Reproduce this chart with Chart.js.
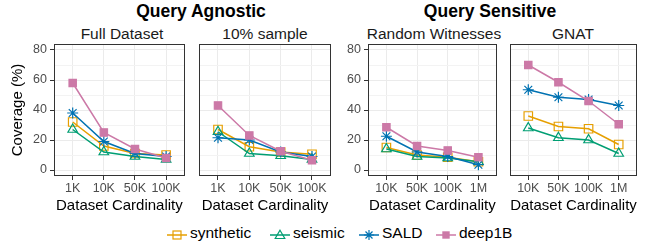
<!DOCTYPE html>
<html>
<head>
<meta charset="utf-8">
<script src="https://cdn.jsdelivr.net/npm/chart.js@4.4.1/dist/chart.umd.min.js"></script>
<style>
  body { margin: 0; background: #fff; width: 648px; height: 248px; position: relative; overflow: hidden;
         font-family: "Liberation Sans", Arial, sans-serif; }
  canvas { position: absolute; }
  .t { position: absolute; white-space: nowrap; transform: translateX(-50%); }
  .group { font-size: 17.5px; line-height: 17.5px; font-weight: bold; color: #000; top: 3px; }
  .strip { font-size: 15.5px; line-height: 15.5px; color: #1a1a1a; top: 26px; }
  .leg { position: absolute; top: 225px; font-size: 15.5px; line-height: 15.5px; color: #000; white-space: nowrap; }
  .leg svg { position: absolute; top: 3px; }
</style>
</head>
<body>

<div class="t group" style="left:201px">Query Agnostic</div>
<div class="t group" style="left:490px">Query Sensitive</div>
<div class="t strip" style="left:122px">Full Dataset</div>
<div class="t strip" style="left:265px">10% sample</div>
<div class="t strip" style="left:434px">Random Witnesses</div>
<div class="t strip" style="left:573px">GNAT</div>
<div id="legend"></div>

<script>
const SERIES = ['synthetic', 'seismic', 'SALD', 'deep1B'];
const agnosticLabels = ['1K', '10K', '50K', '100K'];
const sensitiveLabels = ['10K', '50K', '100K', '1M'];

// Query Agnostic - Full Dataset
const fullSynthetic = [32, 16, 11, 10];
const fullSeismic = [27, 12, 9, 7];
const fullSald = [38, 19, 11, 9];
const fullDeep = [58, 25, 14, 8];

// Query Agnostic - 10% sample
const sampleSynthetic = [27, 15.5, 12, 10.5];
const sampleSeismic = [25.5, 11, 9.5, 7];
const sampleSald = [21.5, 20, 12, 9];
const sampleDeep = [43, 23, 12.5, 6.5];

// Query Sensitive - Random Witnesses
const rwSynthetic = [15, 10, 8.5, 5.5];
const rwSeismic = [14, 9, 8, 5.5];
const rwSald = [22.5, 12, 9, 3.5];
const rwDeep = [28.5, 16, 13, 8.5];

// Query Sensitive - GNAT
const gnatSynthetic = [36, 29, 27.5, 17];
const gnatSeismic = [28, 21.5, 20, 11];
const gnatSald = [53.5, 48.5, 47, 43];
const gnatDeep = [70, 58.5, 46, 30.5];

const yTicks = [0, 10, 20, 30, 40, 50, 60, 70, 80];

const COLORS = ['#E69F00', '#009E73', '#0072B2', '#CC79A7'];
const STYLE = [
  { pointStyle: 'rect', radius: 6, fill: 'rgba(0,0,0,0)' },
  { pointStyle: 'triangle', radius: 5.5, fill: 'rgba(0,0,0,0)' },
  { pointStyle: 'star', radius: 5.5, fill: 'rgba(0,0,0,0)' },
  { pointStyle: 'rect', radius: 5.2, fill: '#CC79A7' }
];
const FONT = '"Liberation Sans", Arial, sans-serif';

const panelBorder = {
  id: 'panelBorder',
  afterDraw(chart) {
    const { ctx, chartArea: a } = chart;
    ctx.save();
    ctx.strokeStyle = '#333333';
    ctx.lineWidth = 1;
    ctx.strokeRect(Math.round(a.left) + 0.5, Math.round(a.top) + 0.5,
                   Math.round(a.right - a.left) - 1, Math.round(a.bottom - a.top) - 1);
    ctx.restore();
  }
};

// left/right = chart area edges in page pixels, axisW = room for y labels
function panel(left, right, axisW, labels, values, yTitle) {
  const cv = document.createElement('canvas');
  const cLeft = left - axisW - 2;
  cv.width = right - cLeft + 3;
  cv.height = 193;
  cv.style.left = cLeft + 'px';
  cv.style.top = '22px';
  document.body.appendChild(cv);
  const showY = axisW > 0;

  new Chart(cv, {
    type: 'line',
    data: {
      datasets: SERIES.map((name, k) => ({
        label: name,
        data: values[k].map((v, i) => ({ x: i, y: v })),
        borderColor: COLORS[k],
        backgroundColor: STYLE[k].fill,
        pointBackgroundColor: STYLE[k].fill,
        pointBorderColor: COLORS[k],
        pointStyle: STYLE[k].pointStyle,
        pointRadius: STYLE[k].radius,
        pointBorderWidth: 1.2,
        borderWidth: 1.5,
        tension: 0,
        order: 3 - k
      }))
    },
    options: {
      responsive: false, animation: false, devicePixelRatio: 1, events: [],
      layout: { padding: { left: 2, right: 3, top: 22, bottom: 0 } },
      plugins: { legend: { display: false }, tooltip: { enabled: false } },
      scales: {
        x: {
          type: 'linear', min: -0.6, max: 3.6,
          afterBuildTicks: s => { s.ticks = labels.map((_, i) => ({ value: i })); },
          afterFit: s => { s.height = 39; },
          border: { display: false },
          grid: { color: '#EBEBEB', lineWidth: 1, tickLength: 4, tickColor: '#333333' },
          ticks: { autoSkip: false, maxRotation: 0, padding: 1, color: '#4D4D4D',
                   font: { size: 12.5, family: FONT }, callback: v => labels[v] },
          title: { display: true, text: 'Dataset Cardinality', color: '#000',
                   font: { size: 15, family: FONT }, padding: { top: 0, bottom: 0 } }
        },
        y: {
          type: 'linear', min: -4, max: 84,
          afterBuildTicks: s => { s.ticks = yTicks.map(v => ({ value: v })); },
          afterFit: s => { s.width = axisW; },
          border: { display: false },
          grid: {
            color: c => (c.tick && c.tick.value % 20) ? '#F3F3F3' : '#EBEBEB',
            lineWidth: 1, drawTicks: showY, tickLength: 4,
            tickColor: c => (c.tick && c.tick.value % 20) ? 'rgba(0,0,0,0)' : '#333333'
          },
          ticks: { display: showY, autoSkip: false, padding: 3, color: '#4D4D4D',
                   font: { size: 12.5, family: FONT }, callback: v => (v % 20 ? '' : v) },
          title: { display: !!yTitle, text: yTitle || '', color: '#000',
                   font: { size: 15, family: FONT }, padding: { top: 7, bottom: 0 } }
        }
      }
    },
    plugins: [panelBorder]
  });
}

panel(54, 189, 52, agnosticLabels, [fullSynthetic, fullSeismic, fullSald, fullDeep], 'Coverage (%)');
panel(194, 335, 0, agnosticLabels, [sampleSynthetic, sampleSeismic, sampleSald, sampleDeep]);
panel(368, 501, 28, sensitiveLabels, [rwSynthetic, rwSeismic, rwSald, rwDeep]);
panel(505, 641, 0, sensitiveLabels, [gnatSynthetic, gnatSeismic, gnatSald, gnatDeep]);

// legend: line + marker key, then text
const legendLeft = [167, 270, 359, 436];
const icon = k => {
  const c = COLORS[k];
  let m = '';
  if (k === 0) m = `<rect x="6" y="3" width="8" height="8" fill="none" stroke="${c}" stroke-width="1.2"/>`;
  if (k === 1) m = `<polygon points="10,2.2 14.8,10.5 5.2,10.5" fill="none" stroke="${c}" stroke-width="1.2"/>`;
  if (k === 2) m = `<path d="M10 2v10M5 7h10M6.5 3.5l7 7M13.5 3.5l-7 7" stroke="${c}" stroke-width="1.2"/>`;
  if (k === 3) m = `<rect x="6.3" y="3.3" width="7.4" height="7.4" fill="${c}"/>`;
  return `<svg width="20" height="14" viewBox="0 0 20 14"><line x1="0" y1="7" x2="20" y2="7" stroke="${c}" stroke-width="1.5"/>${m}</svg>`;
};
document.getElementById('legend').innerHTML = SERIES.map((name, k) =>
  `<div class="leg" style="left:${legendLeft[k]}px">${icon(k)}<span style="margin-left:23px">${name}</span></div>`
).join('');
</script>
</body>
</html>
